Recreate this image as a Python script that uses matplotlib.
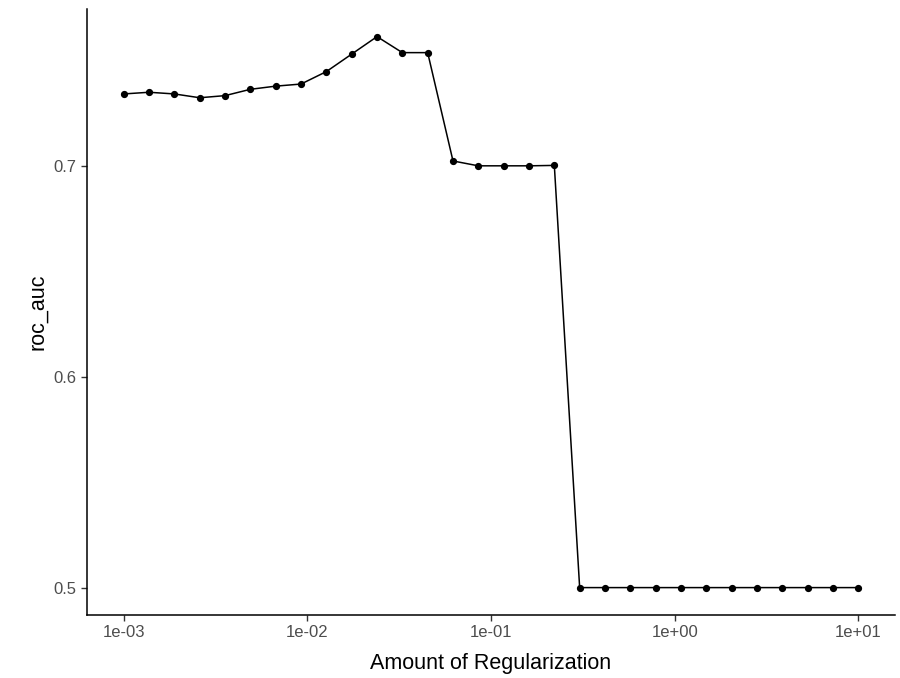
import matplotlib.pyplot as plt
import numpy as np

plt.rcParams['font.family'] = ['Liberation Sans', 'DejaVu Sans']

penalty = np.logspace(-3, 1, 30)
roc_auc = [0.7342, 0.7350, 0.7342, 0.7324, 0.7334, 0.7364, 0.7379, 0.7389,
           0.7448, 0.7531, 0.7614, 0.7538, 0.7538, 0.7024, 0.7001, 0.7001,
           0.7001, 0.7003, 0.5, 0.5, 0.5, 0.5, 0.5, 0.5, 0.5, 0.5, 0.5,
           0.5, 0.5, 0.5]
x_ticks = [1e-3, 1e-2, 1e-1, 1e0, 1e1]
x_tick_labels = ['1e-03', '1e-02', '1e-01', '1e+00', '1e+01']
y_ticks = [0.5, 0.6, 0.7]

fig = plt.figure(figsize=(9, 6.78), dpi=100)
ax = fig.add_axes([87/900, 63/678, 808/900, 606/678])

ax.plot(penalty, roc_auc, color='black', lw=1.1, marker='o', ms=4.2)

ax.set_xscale('log')
ax.set_xlim(10**-3.2, 10**1.2)
ax.set_ylim(0.487, 0.7745)
ax.set_xticks(x_ticks)
ax.set_xticklabels(x_tick_labels)
ax.minorticks_off()
ax.set_yticks(y_ticks)
ax.set_yticklabels(['0.5', '0.6', '0.7'])

for side in ['top', 'right']:
    ax.spines[side].set_visible(False)
for side in ['left', 'bottom']:
    ax.spines[side].set_linewidth(1.1)
ax.tick_params(colors='#333333', labelcolor='#4d4d4d', labelsize=12,
               length=4, width=1)

ax.set_xlabel('Amount of Regularization', fontsize=15.5, labelpad=9)
ax.set_ylabel('roc_auc', fontsize=15.5, labelpad=4)

fig.savefig('out.png', dpi=100)
